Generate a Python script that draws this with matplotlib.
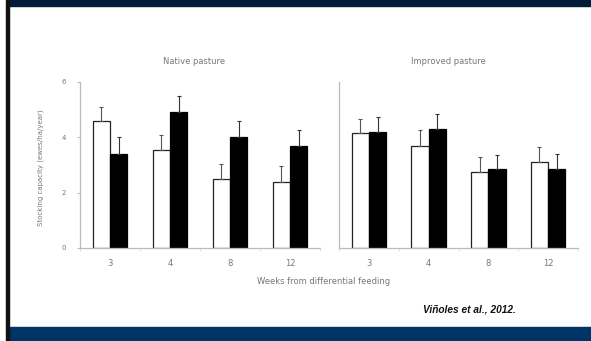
import matplotlib.pyplot as plt
import numpy as np
from matplotlib.patches import Rectangle

weeks = ["3", "4", "8", "12"]

# native pasture: open bars / filled bars, upper error
native_open = [4.6, 3.55, 2.5, 2.4]
native_open_err = [0.5, 0.55, 0.55, 0.55]
native_filled = [3.4, 4.9, 4.0, 3.7]
native_filled_err = [0.6, 0.6, 0.6, 0.55]

# improved pasture
improved_open = [4.15, 3.7, 2.75, 3.1]
improved_open_err = [0.5, 0.55, 0.55, 0.55]
improved_filled = [4.2, 4.3, 2.85, 2.85]
improved_filled_err = [0.55, 0.55, 0.5, 0.55]

panel_titles = ["Native pasture", "Improved pasture"]
y_ticks = [0, 2, 4, 6]

W, H = 591, 341
fig = plt.figure(figsize=(W / 100, H / 100), dpi=100)
fig.patch.set_facecolor("white")

# slide decoration
fig.patches.append(Rectangle((8 / W, 1 - 6 / H), 1, 6 / H, transform=fig.transFigure,
                             color="#001c38", zorder=0))
fig.patches.append(Rectangle((8 / W, 0), 1, 14 / H, transform=fig.transFigure,
                             color="#003366", zorder=0))
fig.patches.append(Rectangle((6 / W, 0), 3 / W, 1, transform=fig.transFigure,
                             color="#111111", zorder=0))

text_col = "#777777"
spine_col = "#bbbbbb"
bw = 0.29


def draw_panel(left_px, right_px, opn, opn_err, fil, fil_err, show_y):
    ax = fig.add_axes([left_px / W, 1 - 248 / H, (right_px - left_px) / W, (248 - 82) / H])
    x = np.arange(len(weeks))
    ax.bar(x - bw / 2, opn, bw, color="white", edgecolor="#222222", linewidth=0.9,
           yerr=[np.zeros(len(opn)), opn_err], error_kw=dict(ecolor="#555555", elinewidth=0.8,
                                                              capsize=1.5, capthick=0.8))
    ax.bar(x + bw / 2, fil, bw, color="black", edgecolor="black", linewidth=0.9,
           yerr=[np.zeros(len(fil)), fil_err], error_kw=dict(ecolor="#333333", elinewidth=0.8,
                                                              capsize=1.5, capthick=0.8))
    ax.set_xlim(-0.5, len(weeks) - 0.5)
    ax.set_ylim(0, 6)
    ax.set_xticks(x)
    ax.set_xticklabels(weeks, fontsize=6, color=text_col)
    ax.set_xticks(np.arange(-0.5, len(weeks)), minor=True)
    ax.tick_params(axis="x", which="major", length=0, pad=8)
    ax.tick_params(axis="x", which="minor", length=2.5, color="#dddddd")
    for s in ["top", "right"]:
        ax.spines[s].set_visible(False)
    ax.spines["left"].set_color(spine_col)
    ax.spines["bottom"].set_color(spine_col)
    ax.spines["left"].set_linewidth(0.9)
    ax.spines["bottom"].set_linewidth(0.9)
    if show_y:
        ax.set_yticks(y_ticks)
        ax.set_yticklabels([str(t) for t in y_ticks], fontsize=5, color=text_col)
        ax.tick_params(axis="y", length=2, color=spine_col, pad=8)
    else:
        ax.set_yticks([])
    ax.patch.set_alpha(0)
    return ax


draw_panel(80, 320, native_open, native_open_err, native_filled, native_filled_err, True)
draw_panel(339, 578, improved_open, improved_open_err, improved_filled, improved_filled_err, False)

fig.text(194 / W, 1 - 61 / H, panel_titles[0], fontsize=6, color=text_col, ha="center", va="center")
fig.text(448 / W, 1 - 61 / H, panel_titles[1], fontsize=6, color=text_col, ha="center", va="center")
fig.text(324 / W, 1 - 281 / H, "Weeks from differential feeding", fontsize=6, color=text_col,
         ha="center", va="center")
fig.text(41 / W, 1 - 168 / H, "Stocking capacity (ewes/ha/year)", fontsize=5, color=text_col,
         ha="center", va="center", rotation=90)

fig.text(469 / W, 1 - 309 / H, "Viñoles et al., 2012.", fontsize=7.3, fontweight="bold",
         fontstyle="italic", family="Liberation Sans", color="#111111", ha="center", va="center")

fig.savefig("out.png", dpi=100, facecolor=fig.get_facecolor())
